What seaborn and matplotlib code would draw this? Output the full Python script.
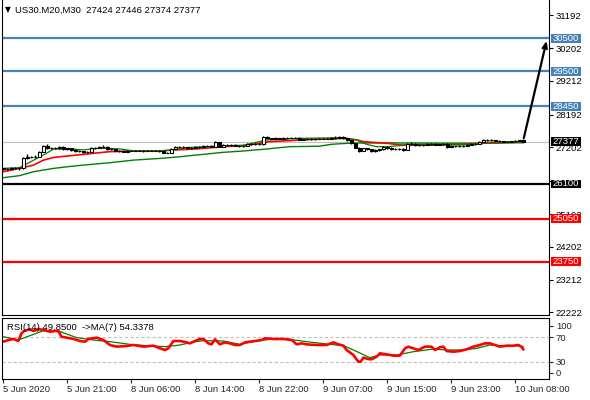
import numpy as np
import matplotlib
matplotlib.use('Agg')
import matplotlib.pyplot as plt
import matplotlib.transforms as mtransforms
from matplotlib.patches import Rectangle
import seaborn as sns

FONT_SIZE = 6.8
FIG_W, FIG_H = 590, 400
LEVEL_BLUE = '#4682B4'

# --- candles (M30 bars, index = bar number) ---
opens = [26570, 26560, 26550, 26590, 26580, 26570, 26880, 26920, 26910, 26920,
         27075, 27255, 27175, 27195, 27190, 27225, 27150, 27175, 27130, 27110,
         27090, 27080, 27075, 27195, 27190, 27225, 27225, 27160, 27150, 27110,
         27100, 27080, 27100, 27110, 27105, 27110, 27100, 27110, 27105, 27110,
         27100, 27045, 27050, 27160, 27220, 27225, 27210, 27180, 27200, 27220,
         27230, 27240, 27250, 27230, 27370, 27230, 27270, 27290, 27290, 27260,
         27255, 27250, 27300, 27300, 27310, 27300, 27530, 27480, 27470, 27480,
         27470, 27480, 27490, 27500, 27500, 27440, 27450, 27460, 27460, 27460,
         27470, 27470, 27470, 27480, 27500, 27520, 27490, 27420, 27330, 27200,
         27110, 27180, 27160, 27100, 27140, 27150, 27220, 27190, 27160, 27150,
         27160, 27140, 27320, 27320, 27280, 27270, 27290, 27310, 27320, 27290,
         27295, 27300, 27230, 27240, 27240, 27250, 27260, 27290, 27300, 27310,
         27380, 27420, 27430, 27420, 27410, 27390, 27380, 27380, 27390, 27400,
         27424]
closes = [26560, 26550, 26590, 26580, 26570, 26880, 26920, 26910, 26920, 27075,
          27255, 27175, 27195, 27190, 27225, 27150, 27175, 27130, 27110, 27090,
          27080, 27075, 27195, 27190, 27225, 27225, 27160, 27150, 27110, 27100,
          27080, 27100, 27110, 27105, 27110, 27100, 27110, 27105, 27110, 27100,
          27045, 27050, 27160, 27220, 27225, 27210, 27180, 27200, 27220, 27230,
          27240, 27250, 27230, 27370, 27230, 27270, 27290, 27290, 27260, 27255,
          27250, 27300, 27300, 27310, 27300, 27530, 27480, 27470, 27480, 27470,
          27480, 27490, 27500, 27500, 27440, 27450, 27460, 27460, 27460, 27470,
          27470, 27470, 27480, 27500, 27520, 27490, 27420, 27330, 27200, 27110,
          27180, 27160, 27100, 27140, 27150, 27220, 27190, 27160, 27150, 27160,
          27140, 27320, 27320, 27280, 27270, 27290, 27310, 27320, 27290, 27295,
          27300, 27230, 27240, 27240, 27250, 27260, 27290, 27300, 27310, 27380,
          27420, 27430, 27420, 27410, 27390, 27380, 27380, 27390, 27400, 27424,
          27377]
highs = [26595, 26580, 26610, 26620, 26600, 26900, 26990, 26950, 26960, 27090,
         27270, 27310, 27220, 27220, 27250, 27240, 27200, 27190, 27150, 27130,
         27110, 27100, 27210, 27230, 27260, 27270, 27240, 27180, 27170, 27130,
         27120, 27120, 27130, 27130, 27130, 27125, 27130, 27125, 27130, 27125,
         27110, 27075, 27175, 27260, 27250, 27250, 27230, 27230, 27250, 27260,
         27270, 27280, 27270, 27390, 27380, 27300, 27320, 27320, 27300, 27280,
         27280, 27330, 27340, 27340, 27330, 27550, 27545, 27500, 27510, 27500,
         27510, 27520, 27530, 27530, 27510, 27470, 27480, 27480, 27480, 27490,
         27490, 27495, 27505, 27540, 27560, 27535, 27500, 27430, 27340, 27210,
         27200, 27200, 27170, 27160, 27170, 27240, 27230, 27210, 27180, 27190,
         27180, 27340, 27360, 27330, 27300, 27310, 27340, 27350, 27330, 27320,
         27330, 27340, 27260, 27260, 27270, 27280, 27310, 27325, 27330, 27400,
         27450, 27460, 27450, 27440, 27420, 27410, 27400, 27410, 27420, 27440,
         27446]
lows = [26535, 26530, 26540, 26560, 26520, 26540, 26860, 26880, 26880, 26900,
        27060, 27160, 27150, 27160, 27170, 27130, 27130, 27110, 27080, 27060,
        27050, 27050, 27060, 27170, 27180, 27200, 27140, 27120, 27090, 27070,
        27060, 27070, 27085, 27085, 27090, 27080, 27085, 27085, 27090, 27070,
        27020, 27025, 27040, 27150, 27200, 27190, 27160, 27170, 27190, 27200,
        27210, 27220, 27210, 27220, 27210, 27210, 27250, 27260, 27240, 27230,
        27230, 27240, 27280, 27280, 27280, 27290, 27460, 27450, 27450, 27450,
        27455, 27465, 27475, 27480, 27420, 27425, 27435, 27440, 27440, 27445,
        27450, 27450, 27455, 27465, 27480, 27470, 27400, 27310, 27180, 27070,
        27090, 27140, 27070, 27080, 27110, 27130, 27170, 27130, 27120, 27130,
        27100, 27130, 27290, 27260, 27240, 27255, 27270, 27290, 27270, 27270,
        27270, 27200, 27210, 27220, 27225, 27230, 27245, 27270, 27285, 27300,
        27370, 27400, 27400, 27390, 27370, 27360, 27360, 27365, 27375, 27385,
        27374]

# --- moving averages (bar position, price) ---
ma_red_x = [0, 4, 7.5, 10, 12.5, 16, 18.5, 22.5, 26.5, 32.5, 39, 42.5, 47, 50, 55, 60, 64, 66.5,
            71.5, 75, 81, 85, 86.5, 88.5, 90, 93.5, 96, 99, 104, 110, 115, 120, 124, 127, 130]
ma_red_y = [26470, 26570, 26670, 26820, 26900, 26945, 26975, 27025, 27075, 27095, 27096, 27125,
            27150, 27176, 27226, 27257, 27327, 27378, 27408, 27440, 27458, 27478, 27458, 27428,
            27378, 27347, 27327, 27280, 27270, 27280, 27290, 27330, 27345, 27370, 27378]
ma_fast_x = [0, 4, 6, 10, 12.5, 16, 20, 24, 29, 32.5, 39, 42.5, 46, 50, 55, 60, 65.8, 74, 85,
             88.3, 90.8, 93.3, 96, 99, 103, 111, 118, 121, 130]
ma_fast_y = [26572, 26590, 26720, 26975, 27150, 27160, 27130, 27180, 27160, 27100, 27100, 27125,
             27200, 27220, 27250, 27270, 27428, 27478, 27498, 27428, 27297, 27226, 27226, 27257,
             27297, 27280, 27297, 27357, 27378]
ma_slow_x = [0, 4, 7.5, 12.5, 16, 20, 26.5, 32.5, 39, 44, 47, 50, 55, 60, 65.8, 71.6, 79, 82,
             87, 95, 110, 120, 130]
ma_slow_y = [26290, 26350, 26470, 26570, 26620, 26670, 26740, 26820, 26870, 26920, 26960, 26995,
             27055, 27096, 27156, 27226, 27240, 27298, 27335, 27340, 27330, 27330, 27345]

# --- horizontal levels ---
level_blue = [30500, 29500, 28450]
level_black = [26100]
level_red = [25050, 23750]
last_price = 27377
target_price = 30427

price_ticks = [22222, 23212, 24202, 25192, 26192, 27202, 28192, 29212, 30202, 31192]
price_tick_labels = ['22222', '23212', '24202', '25192', '', '27202', '28192', '29212',
                     '30202', '31192']

# --- RSI(14) and its MA(7) ---
rsi_x = [0, 1.2, 2.5, 3.7, 4.5, 5.1, 6.6, 7.5, 8.7, 10, 11.6, 12.9, 13.7, 14.5, 15.8, 17.5,
         19.1, 20.4, 21.2, 23.3, 25, 26.6, 28.3, 30.8, 32.5, 35, 37.5, 39.1, 40.4, 41.2, 42.5,
         44.1, 45.8, 46.6, 47.9, 49.1, 50, 51.2, 52, 52.9, 54.1, 55.4, 56.6, 57.9, 59.1, 60.4,
         61.6, 62.9, 64.5, 65.4, 67.5, 70, 72.1, 73.3, 74.5, 75.8, 78.3, 80.8, 82.5, 83.7, 85,
         85.8, 87.5, 88.7, 89.3, 90, 91.2, 92, 93.3, 94.1, 95.8, 97.5, 99.1, 100.4, 101.2,
         102.5, 103.7, 105.4, 107, 107.9, 109.1, 110, 110.8, 112.5, 114.1, 115.8, 117.5, 119.1,
         120.4, 121.6, 122.9, 124.1, 125.8, 127.5, 128.7, 129.5, 130]
rsi_y = [62.9, 65.6, 67.3, 64, 76.6, 80.4, 83.2, 80.4, 83.7, 82, 79.3, 80.4, 80.4, 71, 69.5,
         67.3, 64, 62.9, 67.3, 69.5, 65.6, 57.4, 54.7, 55.8, 57.4, 54.7, 56.3, 51.9, 49.2, 51.9,
         64, 64, 61.8, 60.1, 64, 67.3, 67.3, 60.1, 58.5, 66.7, 58.5, 61.8, 60.1, 57.4, 57.4, 61.8,
         62.9, 64, 65.6, 68.4, 67.3, 67.3, 65.6, 58.5, 60.1, 58.5, 57.4, 57.4, 61.8, 58.5, 56.3,
         49.2, 41, 30, 30, 36.6, 34.4, 33.8, 38.2, 43.7, 42, 39.9, 39.9, 51.9, 54.7, 51.9, 49.2,
         54.7, 54.7, 49.2, 53.6, 54.7, 47.5, 46.4, 47.5, 50.3, 54.7, 57.4, 60.1, 60.1, 57.4,
         54.7, 56.3, 56.3, 57.4, 54.7, 49.85]
rsi_ma_x = [0, 3.7, 7.5, 10, 13.7, 18.3, 22.5, 26.6, 31.6, 35.8, 40.4, 44.1, 47.9, 50, 55,
            59.1, 63.3, 67.5, 71.6, 75.8, 81.6, 85, 87.5, 91.6, 94.1, 98.3, 102.5, 107.5, 110.8,
            115, 118.3, 121.6, 124.1, 128.3, 130]
rsi_ma_y = [71, 65.6, 74.9, 81, 80.4, 69.5, 65.6, 62.9, 58.5, 56.3, 54.7, 57.4, 62.9, 64.5, 64,
            58.5, 64, 67.3, 66.7, 62.9, 58.5, 56.3, 49.2, 36.6, 41, 41, 46.4, 50.8, 49.2, 49.2,
            51.9, 57.4, 56.3, 56.3, 54.34]

tick_bars = [0, 16, 32, 48, 64, 80, 96, 112, 128]
tick_labels = ['5 Jun 2020', '5 Jun 21:00', '8 Jun 06:00', '8 Jun 14:00', '8 Jun 22:00',
               '9 Jun 07:00', '9 Jun 15:00', '9 Jun 23:00', '10 Jun 08:00']

sns.set_style('white')
plt.rcParams['font.family'] = ['Liberation Sans', 'DejaVu Sans']
plt.rcParams['font.size'] = FONT_SIZE


def fig_rect(left, top, right, bottom):
    return [left / FIG_W, 1 - bottom / FIG_H, (right - left) / FIG_W, (bottom - top) / FIG_H]


fig = plt.figure(figsize=(FIG_W / 100, FIG_H / 100), dpi=100)
ax = fig.add_axes(fig_rect(2.3, 0, 549, 315))
ax_rsi = fig.add_axes(fig_rect(2.3, 317.7, 549, 379))

x_lim = (-0.3, 136.4)
y_lim = (22141, 31657)

# candles
idx = np.arange(len(closes))
o = np.array(opens)
c = np.array(closes)
ax.vlines(idx, lows, highs, color='black', linewidth=1.0, zorder=3)
body_col = np.where(c >= o, 'white', 'black')
ax.bar(idx, np.abs(c - o), bottom=np.minimum(o, c), width=0.78, color=body_col,
       edgecolor='black', linewidth=0.8, zorder=4)

sns.lineplot(x=ma_slow_x, y=ma_slow_y, ax=ax, color='#008000', linewidth=1.0, zorder=2)
sns.lineplot(x=ma_red_x, y=ma_red_y, ax=ax, color='#FF0000', linewidth=1.2, zorder=2)
sns.lineplot(x=ma_fast_x, y=ma_fast_y, ax=ax, color='#008000', linewidth=0.9, zorder=2)

# levels
for lv in level_blue:
    ax.axhline(lv, color=LEVEL_BLUE, linewidth=1.6, zorder=1)
for lv in level_black:
    ax.axhline(lv, color='black', linewidth=1.6, zorder=1)
for lv in level_red:
    ax.axhline(lv, color='#FF0000', linewidth=1.6, zorder=1)
ax.axhline(last_price, color='#C0C0C0', linewidth=0.8, zorder=1)

ax.annotate('', xy=(135.8, target_price), xytext=(130.1, 27488),
            arrowprops=dict(arrowstyle='->,head_length=0.55,head_width=0.22',
                            color='black', lw=1.6, shrinkA=0, shrinkB=0),
            annotation_clip=False, zorder=6)

ax.set_xlim(*x_lim)
ax.set_ylim(*y_lim)
ax.set_xticks([])
ax.yaxis.tick_right()
ax.set_yticks(price_ticks)
ax.set_yticklabels(price_tick_labels)
ax.tick_params(axis='y', right=True, length=3, width=0.8, pad=2, labelsize=FONT_SIZE,
               colors='black')
ax.spines['top'].set_visible(False)
for s in ['left', 'right', 'bottom']:
    ax.spines[s].set_linewidth(0.8)
    ax.spines[s].set_color('black')

# price boxes on the right scale (they sit over the scale labels, as in the terminal)
trans = mtransforms.blended_transform_factory(ax.transAxes, ax.transData)
px_price = (y_lim[1] - y_lim[0]) / 315.0
box_w = 29.5 / 546.7
box_h = 8.8 * px_price
box_levels = ([(v, LEVEL_BLUE) for v in level_blue] + [(last_price, 'black')]
              + [(v, 'black') for v in level_black] + [(v, '#FF0000') for v in level_red])
for v, col in box_levels:
    ax.add_patch(Rectangle((1.0037, v - box_h / 2), box_w, box_h, transform=trans,
                           facecolor=col, edgecolor='none', clip_on=False, zorder=9))
    ax.text(1.0037 + box_w / 2, v, str(v), transform=trans, ha='center', va='center',
            color='white', fontsize=FONT_SIZE, clip_on=False, zorder=10)

# header
ax.text(0.0095, 0.969, '\u25bc', transform=ax.transAxes, ha='center', va='center',
        fontsize=5.5, family='DejaVu Sans', color='black')
ax.text(0.023, 0.968, 'US30.M20,M30  27424 27446 27374 27377', transform=ax.transAxes,
        ha='left', va='center', fontsize=FONT_SIZE, color='black')

# RSI panel
ax_rsi.axhline(70, color='#C0C0C0', linestyle=(0, (3, 2)), linewidth=0.8)
ax_rsi.axhline(30, color='#C0C0C0', linestyle=(0, (3, 2)), linewidth=0.8)
sns.lineplot(x=rsi_ma_x, y=rsi_ma_y, ax=ax_rsi, color='#008000', linewidth=0.9)
sns.lineplot(x=rsi_x, y=rsi_y, ax=ax_rsi, color='#FF0000', linewidth=1.9)
ax_rsi.set_xlim(*x_lim)
ax_rsi.set_ylim(1.5, 102.3)
ax_rsi.yaxis.tick_right()
ax_rsi.set_yticks([88.7, 70, 30, 12])
ax_rsi.set_yticklabels(['100', '70', '30', '0'])
ax_rsi.tick_params(axis='y', right=True, length=3, width=0.8, pad=2, labelsize=FONT_SIZE)
ax_rsi.set_xticks(tick_bars)
ax_rsi.set_xticklabels(tick_labels)
ax_rsi.tick_params(axis='x', bottom=True, length=3, width=0.8, pad=1.5, labelsize=FONT_SIZE)
for lbl in ax_rsi.get_xticklabels():
    lbl.set_ha('left')
for s in ax_rsi.spines.values():
    s.set_linewidth(0.8)
    s.set_color('black')
ax_rsi.set_xlabel('')
ax_rsi.set_ylabel('')
ax.set_xlabel('')
ax.set_ylabel('')
ax_rsi.text(0.009, 0.837, 'RSI(14) 49.8500  ->MA(7) 54.3378', transform=ax_rsi.transAxes,
            ha='left', va='center', fontsize=FONT_SIZE, color='black')

fig.savefig('out.png', dpi=100, facecolor='white')
